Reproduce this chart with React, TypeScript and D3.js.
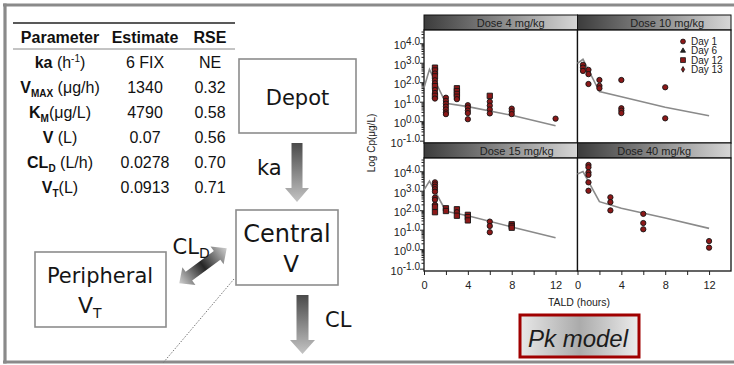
import React, { useEffect, useRef } from 'react';
import * as d3 from 'd3';

const SANS = '"Liberation Sans", Arial, sans-serif';
const DIAG = '"DejaVu Sans", sans-serif';

// parameter table
const paramSymbols = ['ka', 'V', 'K', 'V', 'CL', 'V'];
const paramSubs = ['', 'MAX', 'M', '', 'D', 'T'];
const paramUnits = [' (h', ' (μg/h)', '(μg/L)', ' (L)', ' (L/h)', '(L)'];
const paramSups = ['-1', '', '', '', '', ''];
const paramTails = [')', '', '', '', '', ''];
const estimates = ['6 FIX', '1340', '4790', '0.07', '0.0278', '0.0913'];
const rses = ['NE', '0.32', '0.58', '0.56', '0.70', '0.71'];

// facet panels
const panelTitles = ['Dose 4 mg/kg', 'Dose 10 mg/kg', 'Dose 15 mg/kg', 'Dose 40 mg/kg'];
const dayValues = [1, 6, 12, 13];
const dayLabels = ['Day 1', 'Day 6', 'Day 12', 'Day 13'];
const xTicks = [0, 2, 4, 6, 8, 10, 12];

// model prediction (ug/L) at these times
const predTimes = [0, 0.5, 2, 4, 8, 12];
const predDose4 = [52, 457, 8.3, 5.6, 2.0, 0.58];
const predDose10 = [930, 1510, 33, 18, 5.2, 1.9];
const predDose15 = [1100, 3160, 89, 52, 13.8, 3.9];
const predDose40 = [7200, 9550, 275, 126, 40, 11.7];

// observations: [time (h), conc (ug/L), day]
const obsDose4: [number, number, number][] = [
  [1, 560, 12], [1, 400, 12], [1, 280, 1], [1, 200, 12], [1, 126, 1], [1, 89, 1],
  [1, 63, 12], [1, 40, 1], [1, 28, 1], [1, 20, 12], [1, 14.5, 1],
  [2, 16, 1], [2, 11, 1], [2, 7.9, 1], [2, 5.6, 1], [2, 4.0, 1], [2, 2.8, 1], [2, 2.3, 1],
  [3, 49, 12], [3, 35, 12], [3, 25, 12], [3, 18, 12], [3, 13.5, 1],
  [4, 6.6, 1], [4, 5.0, 1], [4, 3.5, 1], [4, 2.6, 1], [4, 1.26, 1],
  [6, 20, 12], [6, 10, 1], [6, 6.3, 1], [6, 4.0, 1], [6, 2.5, 1],
  [8, 4.4, 1], [8, 3.2, 1], [8, 2.3, 1],
  [12, 1.35, 1],
];
const obsDose10: [number, number, number][] = [
  [0.5, 780, 1], [0.5, 560, 1], [0.5, 380, 1],
  [1, 430, 1], [1, 260, 1], [1, 81, 1],
  [2, 130, 1], [2, 65, 1], [2, 49, 1],
  [4, 130, 1], [4, 4.6, 1], [4, 3.5, 1], [4, 2.6, 1],
  [8, 55, 1], [8, 1.4, 1],
];
const obsDose15: [number, number, number][] = [
  [1, 2700, 1], [1, 2100, 1], [1, 1600, 1], [1, 1200, 1], [1, 890, 1],
  [1, 440, 1], [1, 340, 1], [1, 190, 1], [1, 150, 12], [1, 79, 12],
  [2, 126, 12], [2, 91, 12],
  [3, 112, 12], [3, 79, 1], [3, 52, 12],
  [4, 58, 12], [4, 44, 12], [4, 30, 12],
  [6, 26, 1], [6, 15.5, 1], [6, 7.4, 1],
  [8, 19, 12], [8, 15.5, 12], [8, 12.6, 12],
];
const obsDose40: [number, number, number][] = [
  [1, 21000, 1], [1, 16000, 1], [1, 8700, 1], [1, 6500, 1], [1, 2700, 1], [1, 1000, 1],
  [3, 460, 1], [3, 260, 1], [3, 98, 1],
  [6, 65, 1], [6, 22, 1], [6, 10.5, 1],
  [12, 2.6, 1], [12, 1.2, 1],
];

const predByPanel = [predDose4, predDose10, predDose15, predDose40];
const obsByPanel = [obsDose4, obsDose10, obsDose15, obsDose40];
// the strip titles are not quite centred in the original
const titleShift = [10, 13, 16, 0];

const daySymbol = (day: number) =>
  day === 6 ? d3.symbolTriangle : day === 12 ? d3.symbolSquare : day === 13 ? d3.symbolDiamond : d3.symbolCircle;
const daySize = (day: number) => (day === 6 ? 13 : day === 12 ? 28 : day === 13 ? 11 : 22);

const downArrow = (cx: number, top: number, headTop: number, tip: number, sw: number, hw: number) =>
  `M${cx - sw / 2},${top}H${cx + sw / 2}V${headTop}H${cx + hw / 2}L${cx},${tip}L${cx - hw / 2},${headTop}H${cx - sw / 2}Z`;

const FacetChart = () => {
  const gRef = useRef<SVGGElement>(null);

  useEffect(() => {
    const root = d3.select(gRef.current);
    root.selectAll('*').remove();

    const panelW = 153.5;
    const panelH = 113;
    const stripH = 15;
    const lefts = [424, 577.5];
    const tops = [30, 158];

    const x = d3.scaleLinear().domain([0, 14]).range([0, panelW]);
    const y = d3.scaleLog().domain([10 ** -1.12, 10 ** 4.68]).range([panelH, 0]);
    const line = d3
      .line<number>()
      .x((_, i) => x(predTimes[i]))
      .y((d) => y(d));

    const majors = d3.range(-1, 5).map((p) => 10 ** p);
    const minors: number[] = [];
    d3.range(-1, 5).forEach((p) => {
      d3.range(2, 10).forEach((k) => {
        if (k * 10 ** p < 10 ** 4.68) minors.push(k * 10 ** p);
      });
    });

    panelTitles.forEach((title, i) => {
      const col = i % 2;
      const row = Math.floor(i / 2);
      const g = root.append('g').attr('transform', `translate(${lefts[col]},${tops[row]})`);

      // strip
      g.append('rect')
        .attr('x', 0)
        .attr('y', -stripH)
        .attr('width', panelW)
        .attr('height', stripH)
        .attr('fill', 'url(#stripGrad)')
        .attr('stroke', '#111')
        .attr('stroke-width', 1);
      g.append('text')
        .attr('x', panelW / 2 + titleShift[i])
        .attr('y', -stripH / 2 + 4)
        .attr('text-anchor', 'middle')
        .attr('font-size', 11)
        .attr('font-family', SANS)
        .attr('fill', '#1e1e1e')
        .text(title);

      // panel frame
      g.append('rect')
        .attr('width', panelW)
        .attr('height', panelH)
        .attr('fill', 'white')
        .attr('stroke', '#111')
        .attr('stroke-width', 1.3);

      // y axis on the left column
      if (col === 0) {
        g.append('g')
          .call(d3.axisLeft(y).tickValues(minors).tickSize(2.5).tickFormat(() => ''))
          .call((a) => a.select('.domain').remove())
          .call((a) => a.selectAll('line').attr('stroke', '#222'));
        g.append('g')
          .attr('font-family', SANS)
          .call(d3.axisLeft(y).tickValues(majors).tickSize(4).tickPadding(0))
          .call((a) => a.select('.domain').remove())
          .call((a) => a.selectAll('line').attr('stroke', '#222'))
          .call((a) =>
            a.selectAll<SVGTextElement, number>('.tick text').each(function (d) {
              const t = d3.select(this);
              t.text(null).attr('dy', '0.5em').attr('fill', '#222').attr('font-size', 11);
              t.append('tspan').text('10');
              t.append('tspan')
                .attr('dy', -4.5)
                .attr('font-size', 10)
                .text(Math.round(Math.log10(d)).toFixed(1));
            })
          );
      }

      // x axis on the bottom row
      if (row === 1) {
        g.append('g')
          .attr('transform', `translate(0,${panelH})`)
          .attr('font-family', SANS)
          .call(
            d3
              .axisBottom(x)
              .tickValues(xTicks)
              .tickSize(4)
              .tickPadding(6)
              .tickFormat((d) => (+d % 4 === 0 ? String(d) : ''))
          )
          .call((a) => a.select('.domain').remove())
          .call((a) => a.selectAll('line').attr('stroke', '#222'))
          .call((a) => a.selectAll('text').attr('font-size', 11).attr('fill', '#222'));
      }

      // model prediction
      g.append('path')
        .datum(predByPanel[i])
        .attr('d', line)
        .attr('fill', 'none')
        .attr('stroke', '#8a8a8a')
        .attr('stroke-width', 1.6);

      // observations
      g.selectAll('.obs')
        .data(obsByPanel[i])
        .join('path')
        .attr('class', 'obs')
        .attr('transform', (d) => `translate(${x(d[0])},${y(d[1])})`)
        .attr('d', (d) => d3.symbol(daySymbol(d[2]), daySize(d[2]))())
        .attr('fill', '#8c1818')
        .attr('stroke', '#151515')
        .attr('stroke-width', 0.9);

      // legend in the Dose 10 panel
      if (i === 1) {
        const lg = g
          .append('g')
          .selectAll('g')
          .data(dayValues)
          .join('g')
          .attr('transform', (_, k) => `translate(105.5,${11.5 + k * 9.3})`);
        lg.append('path')
          .attr('d', (d) => d3.symbol(daySymbol(d), daySize(d) * 0.85)())
          .attr('fill', (d) => (d === 6 ? '#222' : '#8c1818'))
          .attr('stroke', '#151515')
          .attr('stroke-width', 0.8);
        lg.append('text')
          .attr('x', 8)
          .attr('y', 3.6)
          .attr('font-size', 10)
          .attr('font-family', SANS)
          .attr('fill', '#222')
          .text((_, k) => dayLabels[k]);
      }
    });

    root
      .append('text')
      .attr('x', 579)
      .attr('y', 306)
      .attr('text-anchor', 'middle')
      .attr('font-size', 10.5)
      .attr('font-family', SANS)
      .attr('fill', '#222')
      .text('TALD (hours)');
    root
      .append('text')
      .attr('transform', 'translate(375,143) rotate(-90)')
      .attr('text-anchor', 'middle')
      .attr('font-size', 10)
      .attr('font-family', SANS)
      .attr('fill', '#222')
      .text('Log Cp(μg/L)');
  }, []);

  return <g ref={gRef} />;
};

const rowBaselines = [68, 93, 118, 143, 168, 193];

export default function App() {
  return (
    <svg
      width={734}
      height={365}
      style={{ position: 'absolute', left: 0, top: 0, background: 'white' }}
    >
      <defs>
        <linearGradient id="stripGrad" x1="0" y1="0" x2="1" y2="0">
          <stop offset="0" stopColor="#3c3c3c" />
          <stop offset="1" stopColor="#d6d6d6" />
        </linearGradient>
        <linearGradient id="downGrad" x1="0" y1="0" x2="0" y2="1">
          <stop offset="0" stopColor="#4a4a4a" />
          <stop offset="1" stopColor="#c4c4c4" />
        </linearGradient>
        <linearGradient id="twoWayGrad" x1="0" y1="0" x2="1" y2="0">
          <stop offset="0" stopColor="#cfcfcf" />
          <stop offset="0.5" stopColor="#262626" />
          <stop offset="1" stopColor="#cfcfcf" />
        </linearGradient>
        <linearGradient id="pkGrad" x1="0" y1="0" x2="1" y2="0">
          <stop offset="0" stopColor="#e8e8e8" />
          <stop offset="0.5" stopColor="#ababab" />
          <stop offset="1" stopColor="#ececec" />
        </linearGradient>
      </defs>

      {/* outer frame */}
      <g stroke="#8a8a8a" strokeWidth={3.2} fill="none">
        <line x1={3} y1={5} x2={734} y2={5} />
        <line x1={5} y1={3.4} x2={5} y2={363.6} />
        <line x1={3} y1={362} x2={734} y2={362} />
      </g>

      {/* parameter table */}
      <g fontFamily={SANS} fill="#111">
        <line x1={13} y1={23} x2={235} y2={23} stroke="#222" strokeWidth={1.3} />
        <line x1={13} y1={49} x2={235} y2={49} stroke="#888" strokeWidth={1} />
        <g fontSize={16} fontWeight="bold" textAnchor="middle">
          <text x={60} y={43}>Parameter</text>
          <text x={145} y={43}>Estimate</text>
          <text x={210} y={43}>RSE</text>
        </g>
        {paramSymbols.map((sym, i) => (
          <g key={i} fontSize={16} textAnchor="middle">
            <text x={60} y={rowBaselines[i]}>
              <tspan fontWeight="bold">{sym}</tspan>
              {paramSubs[i] && (
                <tspan fontWeight="bold" fontSize={10} dy={4}>
                  {paramSubs[i]}
                </tspan>
              )}
              <tspan dy={paramSubs[i] ? -4 : 0}>{paramUnits[i]}</tspan>
              {paramSups[i] && (
                <tspan fontSize={10} dy={-6}>
                  {paramSups[i]}
                </tspan>
              )}
              {paramTails[i] && <tspan dy={6}>{paramTails[i]}</tspan>}
            </text>
            <text x={145} y={rowBaselines[i]}>{estimates[i]}</text>
            <text x={210} y={rowBaselines[i]}>{rses[i]}</text>
          </g>
        ))}
      </g>

      {/* compartment diagram */}
      <g fill="white" stroke="#8c8c8c" strokeWidth={1.6}>
        <rect x={239} y={59} width={117} height={74} />
        <rect x={236} y={210} width={102} height={75} />
        <rect x={35} y={252} width={131} height={75} />
      </g>
      <line x1={234} y1={279} x2={163} y2={363} stroke="#777" strokeWidth={1} strokeDasharray="1.5,1.5" />
      <path d={downArrow(297, 143, 188, 202, 11, 24)} fill="url(#downGrad)" />
      <path d={downArrow(302.5, 295, 340, 354, 12, 25)} fill="url(#downGrad)" />
      <path
        d="M-29.5,0L-17.5,-11V-5.5H17.5V-11L29.5,0L17.5,11V5.5H-17.5V11Z"
        transform="translate(203,265.8) rotate(-36.4)"
        fill="url(#twoWayGrad)"
      />
      <g fontFamily={DIAG} fill="#151515">
        <text x={297.5} y={105} fontSize={21} textAnchor="middle">Depot</text>
        <text x={257} y={175} fontSize={21}>ka</text>
        <text x={287} y={241.5} fontSize={24} textAnchor="middle">Central</text>
        <text x={291} y={272} fontSize={23} textAnchor="middle">V</text>
        <text x={100} y={283} fontSize={21} textAnchor="middle">Peripheral</text>
        <text x={78} y={313} fontSize={22}>
          V<tspan fontSize={14} dy={5}>T</tspan>
        </text>
        <text x={172.5} y={254} fontSize={21}>
          CL<tspan fontSize={14} dy={4}>D</tspan>
        </text>
        <text x={325} y={327} fontSize={21}>CL</text>
      </g>

      <FacetChart />

      {/* Pk model badge */}
      <rect x={520} y={315} width={119} height={42} fill="url(#pkGrad)" stroke="#a00000" strokeWidth={3} />
      <text x={528} y={347} fontFamily={SANS} fontStyle="italic" fontSize={24} fill="#1c1c1c">
        Pk model
      </text>
    </svg>
  );
}
